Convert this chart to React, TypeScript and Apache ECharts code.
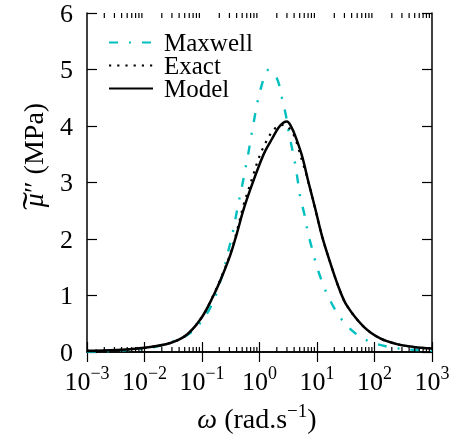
import React, { useEffect, useRef } from 'react';
import * as echarts from 'echarts';

// ---- data ----
const xTickExponents = [-3, -2, -1, 0, 1, 2, 3];
const yTicks = [0, 1, 2, 3, 4, 5, 6];
const minorDecades = [-3, -2, -1, 0, 1, 2];
const minorMultipliers = [2, 3, 4, 5, 6, 7, 8, 9];

// log10(omega) and mu'' (MPa)
const maxwellLogW = [-3, -2.5, -2, -1.6, -1.2, -0.915, -0.77, -0.716, -0.629, -0.56, -0.483, -0.426, -0.369, -0.31, -0.252, -0.195, -0.148, -0.096, -0.049, 0.026, 0.09, 0.153, 0.23, 0.32, 0.39, 0.459, 0.504, 0.563, 0.62, 0.667, 0.708, 0.783, 0.84, 0.911, 0.986, 1.085, 1.19, 1.334, 1.507, 1.75, 2.01, 2.3, 2.59, 3];
const maxwellMu = [0.006, 0.02, 0.06, 0.15, 0.34, 0.68, 0.98, 1.15, 1.42, 1.72, 2.03, 2.32, 2.62, 2.9, 3.21, 3.51, 3.8, 4.09, 4.36, 4.68, 4.88, 4.99, 4.95, 4.8, 4.5, 4.19, 3.92, 3.62, 3.33, 3.02, 2.74, 2.43, 2.12, 1.84, 1.55, 1.25, 0.99, 0.72, 0.48, 0.27, 0.15, 0.08, 0.045, 0.02];

const exactLogW = [-3, -2.5, -2, -1.55, -1.26, -1.0, -0.8, -0.683, -0.51, -0.393, -0.278, -0.174, -0.104, -0.017, 0.07, 0.157, 0.243, 0.33, 0.42, 0.516, 0.61, 0.66, 0.748, 0.807, 0.853, 0.911, 0.969, 1.085, 1.23, 1.386, 1.52, 1.81, 2.1, 2.39, 2.68, 3];
const exactMu = [0.02, 0.035, 0.075, 0.16, 0.31, 0.62, 1.01, 1.28, 1.73, 2.14, 2.6, 2.93, 3.15, 3.42, 3.63, 3.8, 3.93, 4.0, 4.02, 3.96, 3.81, 3.66, 3.36, 3.17, 2.99, 2.78, 2.53, 2.06, 1.58, 1.12, 0.82, 0.45, 0.24, 0.14, 0.09, 0.06];

const modelLogW = [-3, -2.5, -2, -1.55, -1.26, -1.0, -0.8, -0.683, -0.51, -0.393, -0.278, -0.135, 0.0, 0.1, 0.216, 0.33, 0.42, 0.477, 0.55, 0.62, 0.737, 0.853, 0.969, 1.085, 1.23, 1.386, 1.52, 1.81, 2.1, 2.39, 2.68, 3];
const modelMu = [0.02, 0.035, 0.075, 0.16, 0.31, 0.62, 1.0, 1.26, 1.71, 2.1, 2.52, 2.95, 3.32, 3.56, 3.77, 3.97, 4.06, 4.08, 3.99, 3.83, 3.48, 3.0, 2.54, 2.06, 1.58, 1.12, 0.82, 0.45, 0.24, 0.14, 0.09, 0.06];

const seriesNames = ['Maxwell', 'Exact', 'Model'];

const FONT = 'Liberation Serif';
const CYAN = '#00bfbf';

const toPairs = (lw: number[], mu: number[]) => lw.map((l, i) => [Math.pow(10, l), mu[i]]);

export default function App() {
  const ref = useRef<HTMLDivElement>(null);

  useEffect(() => {
    const chart = echarts.init(ref.current!, null, { renderer: 'svg' });

    const minorTickValues: number[][] = [];
    minorDecades.forEach((d) => minorMultipliers.forEach((m) => minorTickValues.push([m * Math.pow(10, d), 0])));

    const axisLine = { show: true, lineStyle: { color: '#000', width: 1.5 } };
    const tick = { show: true, inside: true, length: 10, lineStyle: { color: '#000', width: 1.2 } };

    const option: any = {
      animation: false,
      grid: { left: 87, right: 24, top: 12, bottom: 88 },
      legend: {
        data: seriesNames,
        orient: 'vertical',
        left: 108,
        top: 30,
        padding: 0,
        itemWidth: 44,
        itemHeight: 14,
        itemGap: -2,
        itemStyle: { opacity: 0 },
        selectedMode: false,
        formatter: (n: string) => '{t|' + n + '}',
        textStyle: {
          fontFamily: FONT,
          fontSize: 25,
          color: '#000',
          rich: { t: { fontFamily: FONT, fontSize: 25, lineHeight: 23, color: '#000', padding: [0, 0, 0, 6] } },
        },
      },
      xAxis: [
        {
          type: 'log',
          logBase: 10,
          min: Math.pow(10, xTickExponents[0]),
          max: Math.pow(10, xTickExponents[xTickExponents.length - 1]),
          splitNumber: 6,
          position: 'bottom',
          axisLine,
          axisTick: tick,
          splitLine: { show: false },
          axisLabel: {
            margin: 12,
            fontFamily: FONT,
            fontSize: 26,
            color: '#000',
            formatter: (v: number) => {
              const e = Math.round(Math.log10(v));
              return '{b|10}{s|' + (e < 0 ? '\u2212' + -e : String(e)) + '}';
            },
            rich: {
              b: { fontFamily: FONT, fontSize: 26, lineHeight: 34, color: '#000' },
              s: { fontFamily: FONT, fontSize: 18, lineHeight: 16, verticalAlign: 'top', color: '#000' },
            },
          },
        },
        {
          type: 'log',
          logBase: 10,
          min: Math.pow(10, xTickExponents[0]),
          max: Math.pow(10, xTickExponents[xTickExponents.length - 1]),
          splitNumber: 6,
          position: 'top',
          axisLine,
          axisTick: tick,
          axisLabel: { show: false },
          splitLine: { show: false },
        },
      ],
      yAxis: [
        {
          type: 'value',
          min: yTicks[0],
          max: yTicks[yTicks.length - 1],
          interval: 1,
          position: 'left',
          axisLine,
          axisTick: tick,
          splitLine: { show: false },
          axisLabel: { margin: 14, fontFamily: FONT, fontSize: 26, color: '#000' },
        },
        {
          type: 'value',
          min: yTicks[0],
          max: yTicks[yTicks.length - 1],
          interval: 1,
          position: 'right',
          axisLine,
          axisTick: tick,
          splitLine: { show: false },
          axisLabel: { show: false },
        },
      ],
      graphic: [
        {
          type: 'text',
          x: 33,
          y: 155,
          rotation: Math.PI / 2,
          style: {
            text: '{m|\u03bc}{p|\u2033 (MPa)}',
            align: 'center',
            verticalAlign: 'middle',
            fill: '#000',
            rich: {
              m: { fontFamily: FONT, fontStyle: 'italic', fontSize: 28, lineHeight: 30 },
              p: { fontFamily: FONT, fontSize: 28, lineHeight: 30 },
            },
          },
        },
        {
          type: 'text',
          x: 35,
          y: 201,
          rotation: Math.PI / 2,
          scaleX: 1.6,
          style: {
            text: '\u02dc',
            align: 'center',
            verticalAlign: 'middle',
            fill: '#000',
            fontFamily: FONT,
            fontSize: 34,
          },
        },
        {
          type: 'text',
          x: 257,
          y: 418,
          style: {
            text: '{i|\u03c9}{n| (rad.s}{s|\u22121}{n|)}',
            align: 'center',
            verticalAlign: 'middle',
            fill: '#000',
            rich: {
              i: { fontFamily: FONT, fontStyle: 'italic', fontSize: 28, lineHeight: 34 },
              n: { fontFamily: FONT, fontSize: 28, lineHeight: 34 },
              s: { fontFamily: FONT, fontSize: 19, lineHeight: 16, verticalAlign: 'top' },
            },
          },
        },
      ],
      series: [
        {
          name: 'Maxwell',
          type: 'line',
          data: toPairs(maxwellLogW, maxwellMu),
          symbol: 'none',
          smooth: 0.35,
          lineStyle: { color: CYAN, width: 2.4, type: [9, 11, 2, 11], cap: 'butt' },
          itemStyle: { color: CYAN },
          z: 2,
        },
        {
          name: 'Exact',
          type: 'line',
          data: toPairs(exactLogW, exactMu),
          symbol: 'none',
          smooth: 0.35,
          lineStyle: { color: '#000', width: 2.2, type: [2.2, 6], cap: 'butt' },
          itemStyle: { color: '#000' },
          z: 3,
        },
        {
          name: 'Model',
          type: 'line',
          data: toPairs(modelLogW, modelMu),
          symbol: 'none',
          smooth: 0.35,
          lineStyle: { color: '#000', width: 2.5 },
          itemStyle: { color: '#000' },
          z: 4,
        },
        {
          name: 'minorTicks',
          type: 'custom',
          xAxisIndex: 0,
          yAxisIndex: 0,
          silent: true,
          clip: false,
          z: 5,
          data: minorTickValues,
          renderItem: (params: any, api: any) => {
            const x = api.coord([api.value(0), 0])[0];
            const cs = params.coordSys;
            const yb = cs.y + cs.height;
            const yt = cs.y;
            const st = { stroke: '#000', lineWidth: 1.2 };
            return {
              type: 'group',
              children: [
                { type: 'line', shape: { x1: x, y1: yb, x2: x, y2: yb - 5 }, style: st },
                { type: 'line', shape: { x1: x, y1: yt, x2: x, y2: yt + 5 }, style: st },
              ],
            };
          },
        },
      ],
    };

    chart.setOption(option);
    return () => chart.dispose();
  }, []);

  return <div ref={ref} style={{ position: 'fixed', left: 0, top: 0, width: 456, height: 440 }} />;
}
